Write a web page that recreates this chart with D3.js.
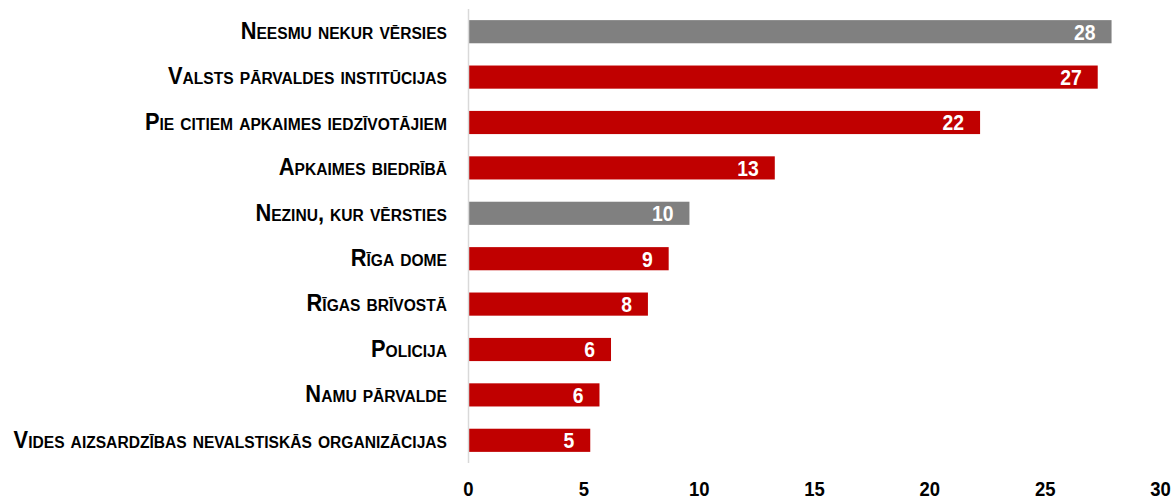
<!DOCTYPE html>
<html>
<head>
<meta charset="utf-8">
<script src="https://cdn.jsdelivr.net/npm/d3@7"></script>
<style>
  body { margin: 0; background: #fff; }
  svg text { font-family: "Liberation Sans Narrow", "Arial Narrow", "Liberation Sans", sans-serif; font-weight: bold; }
  .cat { font-variant: small-caps; font-size: 23px; fill: #000; }
  .val { font-size: 22px; fill: #fff; }
  .tick text { font-size: 21px; fill: #000; }
</style>
</head>
<body>
<div id="chart"></div>
<script>
const categories = [
  "Neesmu nekur vērsies",
  "Valsts pārvaldes institūcijas",
  "Pie citiem apkaimes iedzīvotājiem",
  "Apkaimes biedrībā",
  "Nezinu, kur vērsties",
  "Rīga dome",
  "Rīgas brīvostā",
  "Policija",
  "Namu pārvalde",
  "Vides aizsardzības nevalstiskās organizācijas"
];
const values = [27.9, 27.3, 22.2, 13.3, 9.6, 8.7, 7.8, 6.2, 5.7, 5.3];
const greyRows = ["Neesmu nekur vērsies", "Nezinu, kur vērsties"];
const ticks = [0, 5, 10, 15, 20, 25, 30];

const width = 1174, height = 502;
const margin = {top: 9, right: 14, bottom: 39, left: 468};
const narrow = 0.88; // squeeze glyphs, no narrow font installed

const data = categories.map((c, i) => ({cat: c, value: values[i]}));

const svg = d3.select("#chart").append("svg")
  .attr("width", width)
  .attr("height", height);

const x = d3.scaleLinear().domain([0, 30]).range([margin.left, 1160]);
const y = d3.scaleBand().domain(categories)
  .range([margin.top, height - margin.bottom])
  .paddingInner(0.49).paddingOuter(0.245);

// bars
svg.selectAll("rect.bar").data(data).join("rect")
  .attr("class", "bar")
  .attr("x", x(0))
  .attr("y", d => y(d.cat))
  .attr("width", d => x(d.value) - x(0))
  .attr("height", y.bandwidth())
  .attr("fill", d => greyRows.includes(d.cat) ? "#808080" : "#c00000");

// vertical axis line
svg.append("line")
  .attr("x1", x(0) + 0.5).attr("x2", x(0) + 0.5)
  .attr("y1", margin.top).attr("y2", height - margin.bottom)
  .attr("stroke", "#d9d9d9").attr("stroke-width", 1.5);

// category labels
svg.selectAll("text.cat").data(data).join("text")
  .attr("class", "cat")
  .attr("transform", d => `translate(${x(0) - 21},${y(d.cat) + y.bandwidth() / 2}) scale(0.95,1)`)
  .attr("dy", "0.32em")
  .attr("text-anchor", "end")
  .text(d => d.cat);

// value labels
svg.selectAll("text.val").data(data).join("text")
  .attr("class", "val")
  .attr("transform", d => `translate(${x(d.value) - 16},${y(d.cat) + y.bandwidth() / 2}) scale(${narrow},1)`)
  .attr("dy", "0.36em")
  .attr("text-anchor", "end")
  .text(d => Math.round(d.value));

// x axis
const xAxis = svg.append("g")
  .attr("transform", `translate(0,${height - 13})`)
  .call(d3.axisBottom(x).tickValues(ticks).tickSize(0).tickPadding(0));
xAxis.select(".domain").remove();
xAxis.selectAll("text")
  .attr("y", 0)
  .attr("dy", "0.35em")
  .attr("transform", `scale(${narrow},1)`);
</script>
</body>
</html>
